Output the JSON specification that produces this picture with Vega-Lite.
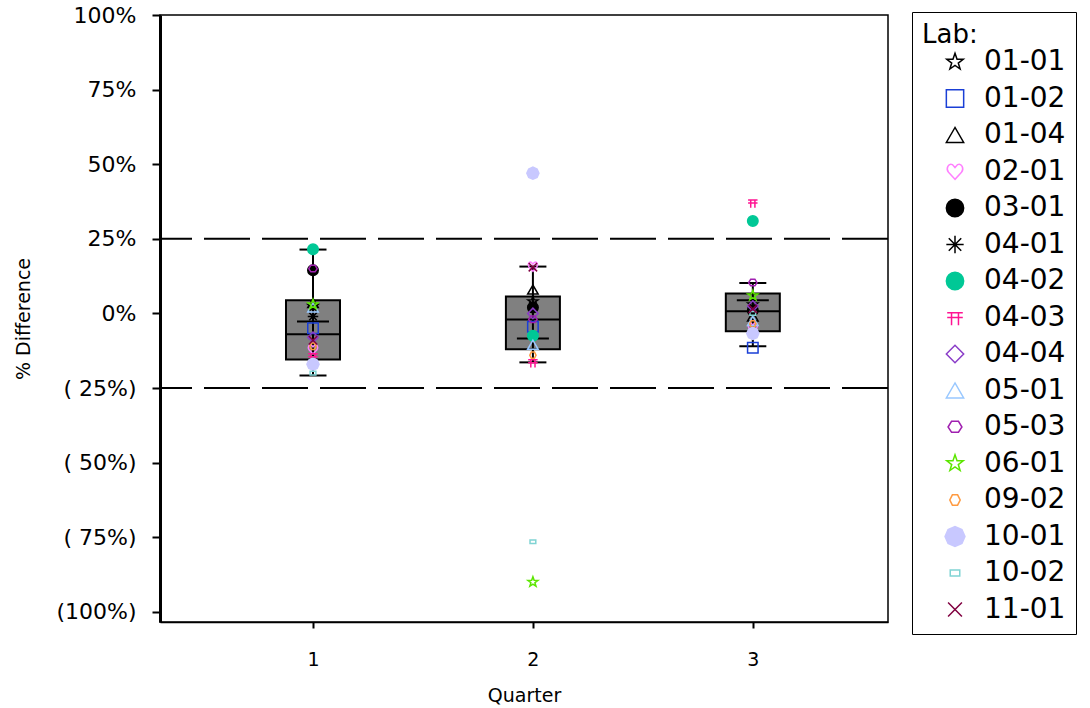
{
  "$schema": "https://vega.github.io/schema/vega-lite/v6.json",
  "autosize": "none",
  "width": 728,
  "height": 607,
  "padding": {"left": 160, "top": 15, "right": 202, "bottom": 86},
  "background": "white",
  "datasets": {
    "limits": [{"ref": 25}, {"ref": -25}],
    "summary": [
      {"quarter": 1, "lo": -20.8, "q1": -15.4, "median": -7.0, "mean": -2.7, "q3": 4.4, "hi": 21.4},
      {"quarter": 2, "lo": -16.4, "q1": -12.0, "median": -2.0, "mean": -8.4, "q3": 5.7, "hi": 15.7},
      {"quarter": 3, "lo": -11.0, "q1": -6.0, "median": 0.7, "mean": 4.4, "q3": 6.7, "hi": 10.2}
    ],
    "results": [
      {"quarter": 1, "lab": "01-01", "diff": 2.5},
      {"quarter": 1, "lab": "01-02", "diff": -5.0},
      {"quarter": 1, "lab": "01-04", "diff": 3.5},
      {"quarter": 1, "lab": "02-01", "diff": -12.0},
      {"quarter": 1, "lab": "03-01", "diff": 14.5},
      {"quarter": 1, "lab": "04-01", "diff": -1.0},
      {"quarter": 1, "lab": "04-02", "diff": 21.5},
      {"quarter": 1, "lab": "04-03", "diff": -14.5},
      {"quarter": 1, "lab": "04-04", "diff": -8.0},
      {"quarter": 1, "lab": "05-01", "diff": 2.0},
      {"quarter": 1, "lab": "05-03", "diff": 15.0},
      {"quarter": 1, "lab": "06-01", "diff": 3.0},
      {"quarter": 1, "lab": "09-02", "diff": -11.0},
      {"quarter": 1, "lab": "10-01", "diff": -17.0},
      {"quarter": 1, "lab": "10-02", "diff": -20.0},
      {"quarter": 1, "lab": "11-01", "diff": -9.0},
      {"quarter": 2, "lab": "01-01", "diff": 4.0},
      {"quarter": 2, "lab": "01-02", "diff": -4.5},
      {"quarter": 2, "lab": "01-04", "diff": 8.0},
      {"quarter": 2, "lab": "02-01", "diff": 15.7},
      {"quarter": 2, "lab": "03-01", "diff": 2.0},
      {"quarter": 2, "lab": "04-01", "diff": 2.5},
      {"quarter": 2, "lab": "04-02", "diff": -7.5},
      {"quarter": 2, "lab": "04-03", "diff": -16.5},
      {"quarter": 2, "lab": "04-04", "diff": 0.0},
      {"quarter": 2, "lab": "05-01", "diff": -10.5},
      {"quarter": 2, "lab": "05-03", "diff": -2.0},
      {"quarter": 2, "lab": "06-01", "diff": -90.0},
      {"quarter": 2, "lab": "09-02", "diff": -14.0},
      {"quarter": 2, "lab": "10-01", "diff": 47.0},
      {"quarter": 2, "lab": "10-02", "diff": -76.5},
      {"quarter": 2, "lab": "11-01", "diff": 15.5},
      {"quarter": 3, "lab": "01-01", "diff": 3.0},
      {"quarter": 3, "lab": "01-02", "diff": -11.5},
      {"quarter": 3, "lab": "01-04", "diff": -1.0},
      {"quarter": 3, "lab": "02-01", "diff": -4.7},
      {"quarter": 3, "lab": "03-01", "diff": 1.0},
      {"quarter": 3, "lab": "04-01", "diff": 2.0},
      {"quarter": 3, "lab": "04-02", "diff": 31.0},
      {"quarter": 3, "lab": "04-03", "diff": 37.0},
      {"quarter": 3, "lab": "04-04", "diff": 2.5},
      {"quarter": 3, "lab": "05-01", "diff": -2.5},
      {"quarter": 3, "lab": "05-03", "diff": 10.3},
      {"quarter": 3, "lab": "06-01", "diff": 6.0},
      {"quarter": 3, "lab": "09-02", "diff": -3.5},
      {"quarter": 3, "lab": "10-01", "diff": -6.7},
      {"quarter": 3, "lab": "10-02", "diff": 0.0},
      {"quarter": 3, "lab": "11-01", "diff": 1.5}
    ]
  },
  "layer": [
    {
      "data": {"name": "summary"},
      "mark": {"type": "bar", "width": 54, "fill": "#808080", "stroke": "black", "strokeWidth": 2},
      "encoding": {
        "x": {
          "field": "quarter", "type": "quantitative", "title": "Quarter",
          "scale": {"domain": [0.327, 3.592], "nice": false, "zero": false},
          "axis": {"values": [1, 2, 3], "format": "d", "grid": false, "domainColor": "black", "domainWidth": 1.5, "tickColor": "black", "tickWidth": 2, "tickSize": 6, "labelFontSize": 19, "labelPadding": 22, "titleFontSize": 19, "titlePadding": 17}
        },
        "y": {
          "field": "q1", "type": "quantitative", "title": "% Difference",
          "scale": {"domain": [-103.4, 100], "nice": false, "zero": false},
          "axis": {
            "values": [-100, -75, -50, -25, 0, 25, 50, 75, 100],
            "labelExpr": "datum.value < -99 ? '(100%)' : datum.value < 0 ? '( ' + (-datum.value) + '%)' : datum.value + '%'",
            "grid": false, "domainColor": "black", "domainWidth": 3, "tickColor": "black", "tickWidth": 2, "tickSize": 8,
            "labelFontSize": 22, "labelPadding": 16, "titleFontSize": 19, "titlePadding": 22
          }
        },
        "y2": {"field": "q3"}
      }
    },
    {
      "data": {"name": "limits"},
      "mark": {"type": "rule", "stroke": "black", "strokeWidth": 2, "strokeDash": [46, 12]},
      "encoding": {
        "y": {"field": "ref", "type": "quantitative", "title": "% Difference"}
      }
    },
    {
      "data": {"name": "summary"},
      "mark": {"type": "rule", "stroke": "black", "strokeWidth": 2},
      "encoding": {
        "x": {"field": "quarter", "type": "quantitative", "title": "Quarter"},
        "y": {"field": "lo", "type": "quantitative", "title": "% Difference"},
        "y2": {"field": "hi"}
      }
    },
    {
      "data": {"name": "summary"},
      "mark": {"type": "tick", "orient": "horizontal", "size": 54, "thickness": 2, "color": "black", "opacity": 1},
      "encoding": {
        "x": {"field": "quarter", "type": "quantitative", "title": "Quarter"},
        "y": {"field": "median", "type": "quantitative", "title": "% Difference"}
      }
    },
    {
      "data": {"name": "summary"},
      "mark": {"type": "tick", "orient": "horizontal", "size": 32, "thickness": 2, "color": "black", "opacity": 1},
      "encoding": {
        "x": {"field": "quarter", "type": "quantitative", "title": "Quarter"},
        "y": {"field": "mean", "type": "quantitative", "title": "% Difference"}
      }
    },
    {
      "data": {"name": "summary"},
      "mark": {"type": "tick", "orient": "horizontal", "size": 27, "thickness": 2, "color": "black", "opacity": 1},
      "encoding": {
        "x": {"field": "quarter", "type": "quantitative", "title": "Quarter"},
        "y": {"field": "lo", "type": "quantitative", "title": "% Difference"}
      }
    },
    {
      "data": {"name": "summary"},
      "mark": {"type": "tick", "orient": "horizontal", "size": 27, "thickness": 2, "color": "black", "opacity": 1},
      "encoding": {
        "x": {"field": "quarter", "type": "quantitative", "title": "Quarter"},
        "y": {"field": "hi", "type": "quantitative", "title": "% Difference"}
      }
    },
    {
      "data": {"name": "results"},
      "mark": {"type": "point", "size": 110, "strokeWidth": 1.5, "opacity": 1, "filled": false},
      "encoding": {
        "x": {"field": "quarter", "type": "quantitative", "title": "Quarter"},
        "y": {"field": "diff", "type": "quantitative", "title": "% Difference"},
        "shape": {
          "field": "lab", "type": "nominal", "title": "Lab:",
          "scale": {
            "domain": ["01-01", "01-02", "01-04", "02-01", "03-01", "04-01", "04-02", "04-03", "04-04", "05-01", "05-03", "06-01", "09-02", "10-01", "10-02", "11-01"],
            "range": [
              "M0,-1L0.235,-0.324L0.951,-0.309L0.38,0.124L0.588,0.809L0,0.4L-0.588,0.809L-0.38,0.124L-0.951,-0.309L-0.235,-0.324Z",
              "square",
              "triangle-up",
              "M0,0.9L-0.75,0.1C-1.1,-0.35,-0.75,-1,-0.3,-0.8L0,-0.45L0.3,-0.8C0.75,-1,1.1,-0.35,0.75,0.1Z",
              "circle",
              "M-1,0L1,0M0,-1L0,1M-0.72,-0.72L0.72,0.72M-0.72,0.72L0.72,-0.72",
              "circle",
              "M-0.9,-0.55L0.9,-0.55M-0.9,0L0.9,0M-0.4,-0.55L-0.4,0.9M0.4,-0.55L0.4,0.9",
              "diamond",
              "triangle-up",
              "M-0.8,0L-0.4,-0.65L0.4,-0.65L0.8,0L0.4,0.6L-0.4,0.6Z",
              "M0,-1L0.235,-0.324L0.951,-0.309L0.38,0.124L0.588,0.809L0,0.4L-0.588,0.809L-0.38,0.124L-0.951,-0.309L-0.235,-0.324Z",
              "M-0.3,-0.6L0.3,-0.6L0.6,0L0.3,0.6L-0.3,0.6L-0.6,0Z",
              "M-1.15,0L-0.8,-0.8L0,-1.15L0.8,-0.8L1.15,0L0.8,0.8L0,1.15L-0.8,0.8Z",
              "M-0.55,-0.35L0.55,-0.35L0.55,0.35L-0.55,0.35Z",
              "M-0.8,-0.8L0.8,0.8M-0.8,0.8L0.8,-0.8"
            ]
          }
        },
        "color": {
          "field": "lab", "type": "nominal", "title": "Lab:",
          "scale": {
            "domain": ["01-01", "01-02", "01-04", "02-01", "03-01", "04-01", "04-02", "04-03", "04-04", "05-01", "05-03", "06-01", "09-02", "10-01", "10-02", "11-01"],
            "range": ["#000000", "#1a3fd6", "#000000", "#ff80ff", "#000000", "#000000", "#00c896", "#ff1493", "#8a3cc8", "#99c8ff", "#a020b0", "#5ce600", "#ff9a40", "#c8c8ff", "#80d4d4", "#800040"]
          },
          "legend": {
            "encode": {
              "symbols": {"update": {"fill": {"signal": "scale('fill', datum.value)"}}}
            }
          }
        },
        "fill": {
          "field": "lab", "type": "nominal", "legend": null,
          "scale": {
            "domain": ["01-01", "01-02", "01-04", "02-01", "03-01", "04-01", "04-02", "04-03", "04-04", "05-01", "05-03", "06-01", "09-02", "10-01", "10-02", "11-01"],
            "range": ["rgba(255,255,255,0)", "rgba(255,255,255,0)", "rgba(255,255,255,0)", "rgba(255,255,255,0)", "#000000", "rgba(255,255,255,0)", "#00c896", "rgba(255,255,255,0)", "rgba(255,255,255,0)", "rgba(255,255,255,0)", "rgba(255,255,255,0)", "rgba(255,255,255,0)", "rgba(255,255,255,0)", "#c8c8ff", "rgba(255,255,255,0)", "rgba(255,255,255,0)"]
          }
        }
      }
    }
  ],
  "config": {
    "font": "DejaVu Sans",
    "view": {"stroke": "black", "strokeWidth": 1.5},
    "axis": {"labelColor": "black", "titleColor": "black", "titleFontWeight": "normal"},
    "legend": {
      "orient": "none",
      "legendX": 752,
      "legendY": -3,
      "strokeColor": "black",
      "fillColor": "white",
      "padding": 10,
      "titleFontSize": 26,
      "titleFontWeight": "normal",
      "titleColor": "black",
      "titlePadding": 0,
      "labelFontSize": 28,
      "labelColor": "black",
      "labelOffset": 15,
      "symbolOffset": 19,
      "symbolSize": 300,
      "symbolStrokeWidth": 1.5,
      "rowPadding": 8.5
    }
  }
}
